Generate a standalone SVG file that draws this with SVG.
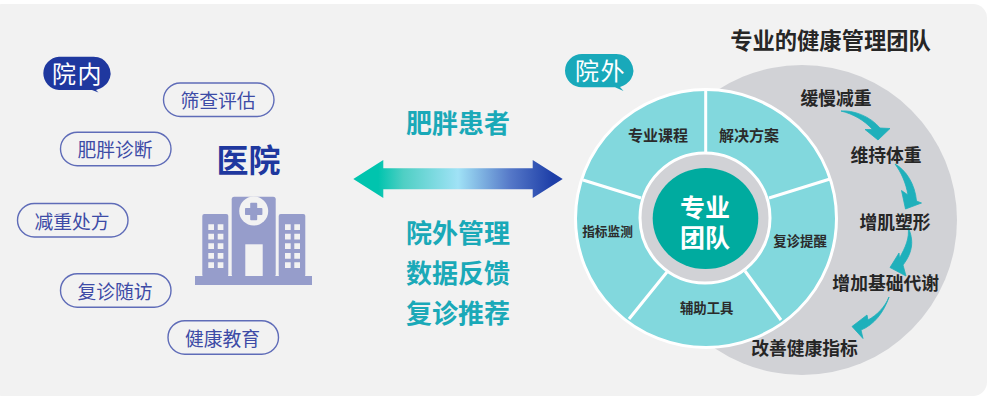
<svg xmlns="http://www.w3.org/2000/svg" width="1000" height="400" viewBox="0 0 1000 400">
<style>
text{font-family:"Noto Sans CJK SC","Noto Sans",sans-serif;text-anchor:middle;dominant-baseline:central}
.pill rect{fill:none;stroke:#5f6cb8;stroke-width:1.4}
.pill text{font-size:18.800px;fill:#3d4ba6}
.teal{font-size:26px;font-weight:700;fill:#1aa9b8}
.seg{font-size:15px;font-weight:700;fill:#2b2b2b}
.step{font-size:17.800px;font-weight:700;fill:#262626}
.bub{font-size:24px;fill:#fff;letter-spacing:1.500px}
.ico{fill:#969dcb}
.win{fill:#f2f2f2}
.spoke{stroke:#fff;stroke-width:3;fill:none}
.curve{fill:#1fb0bb;stroke:#1fb0bb;stroke-width:.8;stroke-linejoin:round}
</style>
<defs>
<linearGradient id="g" x1="353" x2="563" y1="0" y2="0" gradientUnits="userSpaceOnUse">
<stop offset="0.12" stop-color="#00c4ae"/><stop offset="0.24" stop-color="#4fcfc4"/><stop offset="0.5" stop-color="#a0e2f6"/><stop offset="0.75" stop-color="#5578c8"/><stop offset="0.95" stop-color="#1e3fa8"/>
</linearGradient>
</defs>
<rect id="background" x="-12" y="4" width="999" height="392" rx="14" fill="#f2f2f2"/>
<g id="tag-inner">
<path d="M59 56.700H93A17 16.700 0 0 1 108 82Q105 87 96 90L98.500 92.500L92 90H59A17 16.700 0 0 1 59 56.700Z" fill="#1f389f"/>
<text class="bub" x="77.500" y="72">院内</text>
</g>
<g id="pill-1" class="pill"><rect x="163.500" y="83" width="110.500" height="33.500" rx="16.750"/><text x="218" y="99.500">筛查评估</text></g>
<g id="pill-2" class="pill"><rect x="60.500" y="132.200" width="110.500" height="33.500" rx="16.750"/><text x="115" y="148.700">肥胖诊断</text></g>
<g id="pill-3" class="pill"><rect x="17.500" y="203.500" width="110.500" height="33.500" rx="16.750"/><text x="72" y="220">减重处方</text></g>
<g id="pill-4" class="pill"><rect x="60.500" y="273.700" width="110.500" height="33.500" rx="16.750"/><text x="115" y="290.200">复诊随访</text></g>
<g id="pill-5" class="pill"><rect x="168" y="320.700" width="110.500" height="33.500" rx="16.750"/><text x="222.500" y="337">健康教育</text></g>
<g id="hospital">
<text x="248.500" y="157.500" font-size="32" font-weight="700" fill="#1f389f">医院</text>
<rect class="ico" x="195" y="276" width="117" height="9"/>
<rect class="ico" x="202.300" y="214" width="26" height="63" rx="2"/>
<rect class="ico" x="231.700" y="196.700" width="44" height="80" rx="2.500"/>
<rect class="ico" x="278.700" y="214" width="26.600" height="63" rx="2"/>
<circle class="win" cx="253.700" cy="211" r="14.500"/>
<path class="ico" d="M251 202.800h5.400a.8.800 0 0 1 .8.800v4.400h4.400a.8.800 0 0 1 .8.800v5.400a.8.800 0 0 1-.8.800h-4.400v4.400a.8.800 0 0 1-.8.800h-5.400a.8.800 0 0 1-.8-.8v-4.400h-4.400a.8.800 0 0 1-.8-.8v-5.400a.8.800 0 0 1 .8-.8h4.400v-4.400a.8.800 0 0 1 .8-.8z"/>
<rect class="win" x="245.300" y="244.300" width="17.400" height="31.700"/>
<path class="win" d="M208.300 224.300h5.700v5.700h-5.700zM217.700 224.300h5.700v5.700h-5.700zM208.300 233.700h5.700v5.700h-5.700zM217.700 233.700h5.700v5.700h-5.700zM208.300 243.300h5.700v5.700h-5.700zM217.700 243.300h5.700v5.700h-5.700zM208.300 253h5.700v5.700h-5.700zM217.700 253h5.700v5.700h-5.700zM208.300 262.300h5.700v5.700h-5.700zM217.700 262.300h5.700v5.700h-5.700zM285 224.300h5.700v5.700h-5.700zM294.300 224.300h5.700v5.700h-5.700zM285 233.700h5.700v5.700h-5.700zM294.300 233.700h5.700v5.700h-5.700zM285 243.300h5.700v5.700h-5.700zM294.300 243.300h5.700v5.700h-5.700zM285 253h5.700v5.700h-5.700zM294.300 253h5.700v5.700h-5.700zM285 262.300h5.700v5.700h-5.700zM294.300 262.300h5.700v5.700h-5.700z"/>
</g>
<g id="patient-text">
<text class="teal" x="458" y="121.500">肥胖患者</text>
<text class="teal" x="458" y="231.500">院外管理</text>
<text class="teal" x="458" y="271.500">数据反馈</text>
<text class="teal" x="458" y="311.500">复诊推荐</text>
</g>
<g id="team-disc">
<circle cx="802" cy="220" r="155" fill="#d1d2d6"/>
</g>
<text id="team-title" x="830.500" y="39" font-size="22.300" font-weight="700" fill="#262626">专业的健康管理团队</text>
<g id="connectors">
<path d="M353.300 179L383.300 160V168.300H532.700V160L562.700 179L532.700 198V189.300H383.300V198Z" fill="url(#g)"/>
<path class="curve" d="M841 111C853 110 870 116 880 128L890 128.500L878 140L865 129.500L872.500 129.500C864 120 853 114 841 111Z"/>
<path class="curve" d="M895 164C906 170 915 184 916.500 201L921.500 203L905.500 209L901.500 190.500L908 195C906 183 901 172 895 164Z"/>
<path class="curve" d="M908 227C914 240 913 252 903 265L906 276L890 267.500L899 253L899.500 258C905 248 910 238 908 227Z"/>
<path class="curve" d="M889 297C884 312 874 325 861 330L863 338.500L852 326.500L867 315L868 320C877 315 885 307 889 297Z"/>
</g>
<g id="steps">
<text class="step" x="836" y="96.500">缓慢减重</text>
<text class="step" x="886" y="154">维持体重</text>
<text class="step" x="895" y="220.500">增肌塑形</text>
<text class="step" x="885.700" y="282">增加基础代谢</text>
<text class="step" x="804.500" y="347">改善健康指标</text>
</g>
<g id="wheel">
<ellipse cx="706" cy="218.500" rx="130.500" ry="129" fill="#82d8dd" stroke="#fff" stroke-width="3"/>
<path class="spoke" d="M705.700 90V153M769 198L830 179M583 180L641 198M629 319L667 272M781 320L745 271"/>
<text class="seg" x="658" y="134">专业课程</text>
<text class="seg" x="749" y="134">解决方案</text>
<text class="seg" x="607.500" y="230.500" style="font-size:12.700px">指标监测</text>
<text class="seg" x="706.700" y="307" style="font-size:13.400px">辅助工具</text>
<text class="seg" x="800" y="239.500" style="font-size:13.400px">复诊提醒</text>
</g>
<g id="core">
<circle cx="705" cy="218" r="65" fill="#d1d2d6" stroke="#fff" stroke-width="3"/>
<ellipse cx="705.500" cy="218.500" rx="52.800" ry="50.500" fill="#00ab9f"/>
<text font-size="25" font-weight="700" fill="#fff"><tspan x="705" y="205.500">专业</tspan><tspan x="705" y="235.500">团队</tspan></text>
</g>
<g id="tag-outer">
<path d="M582 54H616A17 16.700 0 0 1 631 79Q628 84 620 87L623.500 91L615 87.300H582A17 16.650 0 0 1 582 54Z" fill="#19a9ba"/>
<text class="bub" x="600.500" y="69.500">院外</text>
</g>
</svg>
